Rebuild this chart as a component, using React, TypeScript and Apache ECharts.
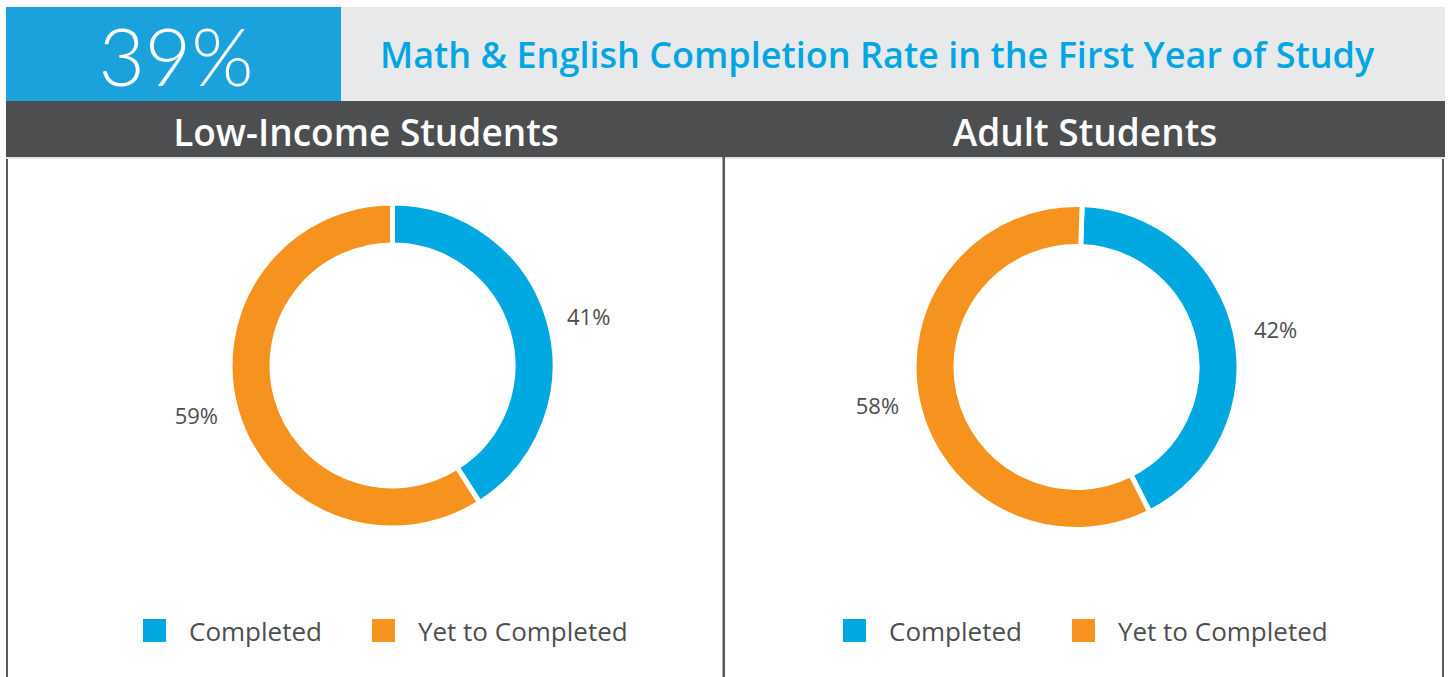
import React, { useEffect, useRef } from "react";
import * as echarts from "echarts";

const headlineRate = "39%";
const chartTitle = "Math & English Completion Rate in the First Year of Study";
const groups = ["Low-Income Students", "Adult Students"];
const categories = ["Completed", "Yet to Completed"];
const lowIncomeValues = [41, 59];
const adultValues = [42, 58];

const FONT = "'Open Sans', Lato, sans-serif";
const THIN_FONT = "Lato, 'Open Sans', sans-serif";
const TEXT_DARK = "#4d4e50";
const COLORS = ["#00a8e1", "#f6921e"];

export default function App() {
  const ref = useRef<HTMLDivElement>(null);

  useEffect(() => {
    if (!ref.current) return;
    const chart = echarts.init(ref.current, null, { renderer: "svg" });

    const pieSeries = (values: number[], center: number[], startAngle: number) => ({
      type: "pie",
      center,
      radius: [120.5, 162.5],
      startAngle,
      clockwise: true,
      avoidLabelOverlap: false,
      silent: true,
      itemStyle: { borderColor: "#ffffff", borderWidth: 5 },
      label: {
        show: true,
        position: "outside",
        formatter: "{c}%",
        fontFamily: FONT,
        fontSize: 22,
        color: TEXT_DARK,
      },
      labelLine: { show: false, length: 14, length2: 0 },
      emphasis: { disabled: true },
      data: categories.map((name, i) => ({ name, value: values[i] })),
    });

    const legendBase = {
      orient: "horizontal",
      top: 617,
      padding: 0,
      icon: "rect",
      itemWidth: 25,
      itemHeight: 25,
      itemGap: 48,
      selectedMode: false,
      data: categories,
      textStyle: {
        fontFamily: FONT,
        fontSize: 26,
        color: TEXT_DARK,
        padding: [0, 0, 0, 17],
      },
    };

    chart.setOption({
      animation: false,
      color: COLORS,
      graphic: [
        { type: "rect", shape: { x: 6, y: 7, width: 335, height: 94 }, style: { fill: "#1ba1dc" }, silent: true },
        { type: "rect", shape: { x: 341, y: 7, width: 1104, height: 94 }, style: { fill: "#e8e9eb" }, silent: true },
        { type: "rect", shape: { x: 6, y: 101, width: 1439, height: 56 }, style: { fill: "#4d4e50" }, silent: true },
        { type: "rect", shape: { x: 6, y: 157, width: 1439, height: 2 }, style: { fill: "#e4e5e6" }, silent: true },
        { type: "rect", shape: { x: 6, y: 159, width: 2, height: 520 }, style: { fill: "#58595b" }, silent: true },
        { type: "rect", shape: { x: 722.5, y: 157, width: 2.5, height: 522 }, style: { fill: "#58595b" }, silent: true },
        { type: "rect", shape: { x: 1442, y: 159, width: 2, height: 520 }, style: { fill: "#58595b" }, silent: true },
        {
          type: "text",
          x: 176,
          y: 55,
          style: {
            text: headlineRate,
            fill: "#ffffff",
            font: `300 80px ${THIN_FONT}`,
            textAlign: "center",
            textVerticalAlign: "middle",
          },
        },
        {
          type: "text",
          x: 380,
          y: 54,
          style: {
            text: chartTitle,
            fill: "#00a6e2",
            font: `600 36px ${FONT}`,
            textAlign: "left",
            textVerticalAlign: "middle",
          },
        },
        {
          type: "text",
          x: 366,
          y: 131,
          style: {
            text: groups[0],
            fill: "#ffffff",
            font: `600 37px ${FONT}`,
            textAlign: "center",
            textVerticalAlign: "middle",
          },
        },
        {
          type: "text",
          x: 1085,
          y: 131,
          style: {
            text: groups[1],
            fill: "#ffffff",
            font: `600 37px ${FONT}`,
            textAlign: "center",
            textVerticalAlign: "middle",
          },
        },
      ],
      legend: [
        { ...legendBase, left: 141 },
        { ...legendBase, left: 841 },
      ],
      series: [
        pieSeries(lowIncomeValues, [392.5, 365.5], 90),
        pieSeries(adultValues, [1076.5, 367], 88),
      ],
    });

    return () => chart.dispose();
  }, []);

  return (
    <div
      ref={ref}
      style={{ position: "absolute", left: 0, top: 0, width: 1449, height: 677, background: "#ffffff" }}
    />
  );
}
